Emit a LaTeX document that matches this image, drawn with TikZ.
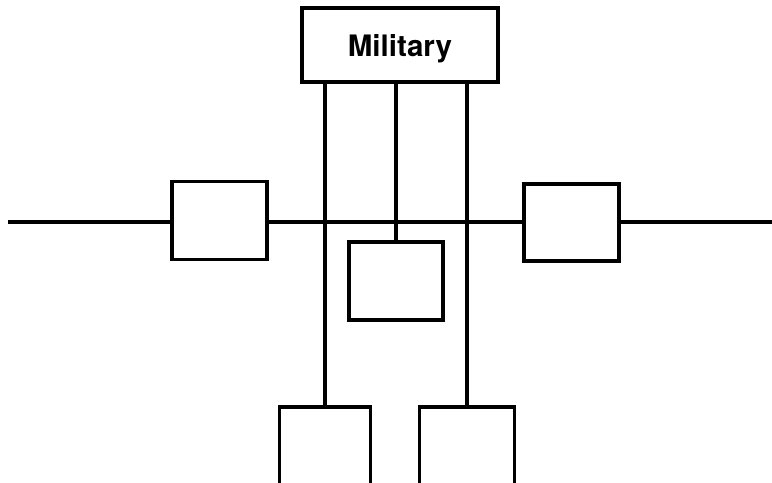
\documentclass[tikz,border=0pt]{standalone}
\usepackage{fontspec}
\setmainfont{TeX Gyre Heros}
\usetikzlibrary{positioning}

\tikzset{
  unit/.style={draw,line width=2.5pt,inner sep=0pt,minimum width=2.375cm,minimum height=1.95cm},
  wire/.style={line width=2.5pt}
}

\begin{document}
\begin{tikzpicture}[x=0.025cm,y=-0.025cm]
    \useasboundingbox (0,0) rectangle (772,482);
    \clip (0,0) rectangle (772,482);

    \node[unit,minimum width=4.9cm,minimum height=1.85cm,text depth=0pt,
          font=\fontsize{21}{24}\selectfont\bfseries] (mil) at (400,45) {Military};
    \node[unit] (west) at (219.5,220.5) {};
    \node[unit,minimum height=1.925cm] (east) at (571.5,222.5) {};
    \node[unit,minimum width=2.35cm] (hub) at (396,281) {};
    \node[unit,minimum width=2.275cm,minimum height=2.8cm] (low1) at (325,463) {};
    \node[unit,minimum width=2.375cm,minimum height=2.8cm] (low2) at (467,463) {};

    \coordinate (lend) at (8,222);
    \coordinate (rend) at (772,222);

    \draw[wire] (lend) -- (lend -| west.west);
    \draw[wire] (west.east |- lend) -- (east.west |- lend);
    \draw[wire] (east.east |- lend) -- (rend);

    \draw[wire] (mil.south -| low1.north) -- (low1.north);
    \draw[wire] (mil.south -| hub.north) -- (hub.north);
    \draw[wire] (mil.south -| low2.north) -- (low2.north);
  \end{tikzpicture}
\end{document}
